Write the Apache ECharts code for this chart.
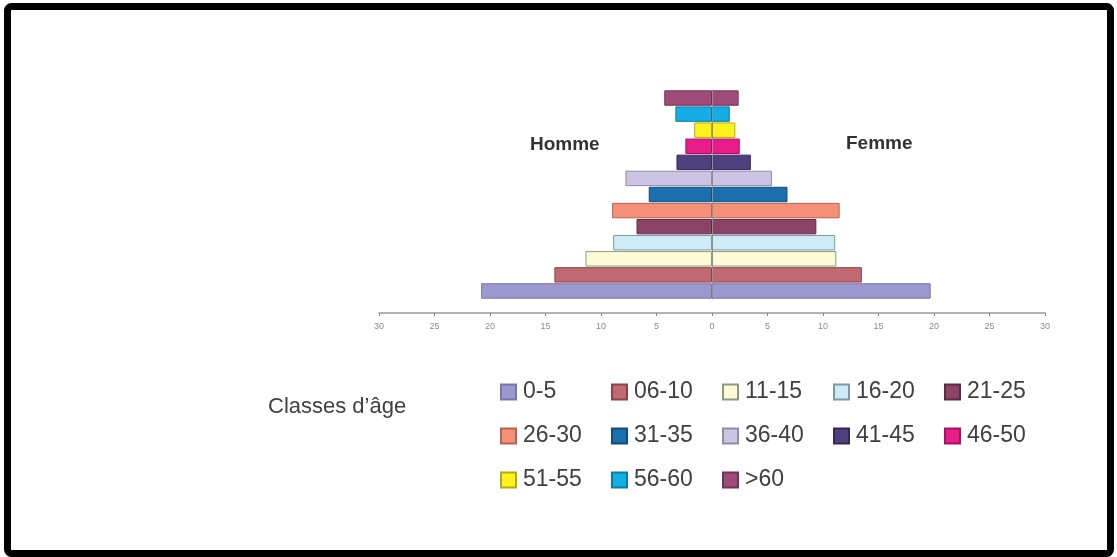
<!DOCTYPE html>
<html>
<head>
<meta charset="utf-8">
<script src="https://cdn.jsdelivr.net/npm/echarts@6/dist/echarts.min.js"></script>
<style>
  html, body { margin: 0; padding: 0; background: #fff; }
  #chart { width: 1117px; height: 557px; }
</style>
</head>
<body>
<div id="chart"></div>
<script>
// age classes, bottom to top
const classes = ['0-5', '06-10', '11-15', '16-20', '21-25', '26-30', '31-35', '36-40', '41-45', '46-50', '51-55', '56-60', '>60'];
// percent of population
const homme = [20.8, 14.2, 11.4, 8.9, 6.8, 9.0, 5.7, 7.8, 3.2, 2.4, 1.6, 3.3, 4.3];
const femme = [19.7, 13.5, 11.2, 11.1, 9.4, 11.5, 6.8, 5.4, 3.5, 2.5, 2.1, 1.6, 2.4];
const colors = ['#9d97cf', '#c06a70', '#fdfad6', '#cdeaf6', '#8c4466', '#f68f78', '#1c6fad', '#cbc5e3', '#4e3f7d', '#e91d8a', '#fff21c', '#14ade6', '#a04c79'];
const borders = ['#7a74a8', '#8a4449', '#8c9a7c', '#7e98a5', '#5e2a43', '#b46452', '#124c78', '#918aab', '#332958', '#a51360', '#b3a812', '#0e7aa2', '#6e3353'];
const xTicks = { min: -30, max: 30, step: 5 };

const font = 'Liberation Sans, Arial, sans-serif';
const myChart = echarts.init(document.getElementById('chart'));

const series = classes.map((name, i) => ({
    name: name,
    type: 'bar',
    data: [[-homme[i], name], [femme[i], name]],
    barGap: '-100%',
    barCategoryGap: '4%',
    itemStyle: {
        color: colors[i],
        borderColor: borders[i],
        borderWidth: 1,
    },
}));

const option = {
    animation: false,
    backgroundColor: '#ffffff',
    textStyle: { fontFamily: font },
    grid: {
        left: 379,
        right: 72,
        top: 90,
        bottom: 258,
    },
    xAxis: {
        type: 'value',
        min: xTicks.min,
        max: xTicks.max,
        interval: xTicks.step,
        offset: 14,
        axisLine: { show: true, lineStyle: { color: '#9a9a9a', width: 1.5 } },
        axisTick: { show: true, length: 3, lineStyle: { color: '#888' } },
        splitLine: { show: false },
        axisLabel: {
            color: '#8a8a8a',
            fontSize: 9,
            margin: 9,
            formatter: (v) => Math.abs(v),
        },
    },
    yAxis: {
        type: 'category',
        data: classes,
        z: 5,
        axisLine: { show: true, onZero: true, lineStyle: { color: '#8f8f8f', width: 1 } },
        axisTick: { show: false },
        axisLabel: { show: false },
        splitLine: { show: false },
    },
    legend: {
        data: classes,
        left: 495,
        top: 372,
        width: 600,
        orient: 'horizontal',
        icon: 'rect',
        itemWidth: 15,
        itemHeight: 15,
        itemGap: 14,
        textStyle: {
            fontSize: 23,
            color: '#404040',
            width: 74,
            lineHeight: 30,
            padding: [0, 0, 0, 2],
        },
    },
    graphic: [
        {
            type: 'rect',
            shape: { x: 7.5, y: 6.5, width: 1103, height: 547, r: 4 },
            style: { fill: 'none', stroke: '#000', lineWidth: 7 },
            silent: true,
        },
        {
            type: 'text',
            left: 530,
            top: 135,
            style: { text: 'Homme', font: 'bold 19px ' + font, fill: '#333' },
        },
        {
            type: 'text',
            left: 846,
            top: 134,
            style: { text: 'Femme', font: 'bold 19px ' + font, fill: '#333' },
        },
        {
            type: 'text',
            left: 268,
            top: 396,
            style: { text: 'Classes d\u2019âge', font: '22px ' + font, fill: '#404040' },
        },
    ],
    series: series,
};

myChart.setOption(option);
</script>
</body>
</html>
